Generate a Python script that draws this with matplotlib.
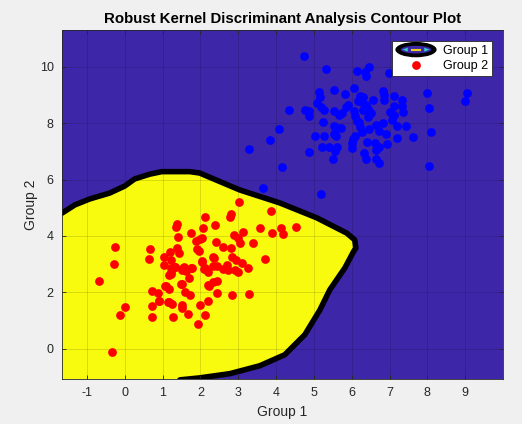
import matplotlib
matplotlib.use("Agg")
import matplotlib.pyplot as plt
import numpy as np
from matplotlib.legend_handler import HandlerBase
from matplotlib.patches import Ellipse, Polygon
from matplotlib.lines import Line2D

plt.rcParams['font.family'] = ['Liberation Sans', 'DejaVu Sans']
plt.rcParams['axes.unicode_minus'] = False

# ── data ─────────────────────────────────────────────────────────────────────
group1_x = [4.74, 5.32, 6.15, 6.35, 6.39, 6.46, 6.99, 7.98, 9.04, 9.00,
            8.05, 8.09, 8.05, 7.63, 5.13, 5.17, 5.54, 5.83, 6.06, 6.83,
            6.86, 6.86, 7.11, 7.32, 7.34, 7.36, 6.55, 6.22, 6.30, 6.17,
            6.26, 6.39, 6.42, 6.29, 5.07, 5.19, 5.26, 4.35, 4.76, 4.87,
            4.88, 5.54, 5.66, 5.73, 5.86, 5.91, 6.06, 6.08, 6.13, 7.11,
            7.12, 7.07, 6.44, 5.23, 5.54, 5.60, 5.71, 6.19, 6.23, 6.26,
            6.46, 6.63, 6.82, 6.73, 7.19, 7.43, 7.19, 4.08, 3.85, 3.29,
            5.03, 5.26, 5.54, 5.58, 4.88, 5.22, 5.40, 5.60, 5.56, 5.51,
            6.00, 6.04, 6.08, 6.41, 6.61, 6.64, 6.73, 6.92, 6.33, 6.39,
            6.63, 6.72, 4.15, 3.66, 5.18, 6.50, 6.00, 6.90, 7.00]
group1_y = [10.37, 9.92, 9.86, 9.82, 9.67, 10.00, 9.79, 9.05, 9.06, 8.78,
            8.52, 7.69, 6.47, 7.50, 9.09, 8.93, 9.19, 9.03, 9.25, 9.13,
            8.99, 8.81, 8.96, 8.81, 8.60, 8.38, 8.81, 8.96, 8.91, 8.78,
            8.75, 8.64, 8.51, 8.46, 8.72, 8.58, 8.46, 8.46, 8.46, 8.44,
            8.25, 8.44, 8.28, 8.37, 8.58, 8.64, 8.44, 8.25, 8.07, 8.60,
            8.28, 8.12, 8.20, 8.04, 7.89, 7.83, 7.81, 8.05, 7.85, 7.67,
            7.78, 7.93, 7.99, 7.73, 7.88, 7.90, 7.48, 7.78, 7.40, 7.08,
            7.54, 7.56, 7.61, 7.54, 6.97, 7.16, 7.16, 7.16, 7.00, 6.72,
            7.10, 7.44, 7.54, 7.34, 7.28, 7.04, 7.16, 7.26, 6.95, 6.72,
            6.71, 6.57, 6.43, 5.71, 5.50, 8.35, 7.30, 7.60, 8.40]

group2_x = [-0.68, -0.26, -0.29, 0.01, -0.13, -0.34, 0.66, 0.63, 0.71, 0.88,
            0.73, 0.71, 0.91, 1.05, 1.03, 1.08, 1.17, 1.15, 1.25, 1.28,
            1.19, 1.23, 1.22, 1.22, 1.35, 1.39, 1.41, 1.37, 1.44, 1.34,
            1.50, 1.57, 1.63, 1.50, 1.70, 1.60, 1.72, 1.52, 1.50, 1.68,
            1.78, 1.76, 1.88, 1.90, 1.97, 1.98, 2.04, 2.11, 2.06, 1.94,
            2.00, 2.12, 2.20, 2.09, 2.34, 2.41, 2.38, 2.23, 2.43, 3.02,
            2.82, 2.78, 3.86, 3.57, 3.88, 4.13, 4.19, 4.53, 3.13, 2.89,
            3.00, 3.04, 3.39, 3.72, 2.03, 2.60, 2.80, 2.84, 2.95, 3.09,
            3.25, 3.00, 2.91, 2.73, 2.69, 2.60, 2.43, 2.34, 2.35, 2.03,
            2.12, 2.19, 2.34, 2.43, 2.20, 2.84, 3.29, 1.32, 1.23, 1.17,
            1.53, 1.76, 1.49, 1.07, 0.90, 1.16]
group2_y = [2.42, 3.61, 3.01, 1.49, 1.19, -0.11, 3.54, 3.19, 2.06, 1.99,
            1.52, 1.12, 1.71, 3.24, 2.96, 2.21, 2.11, 1.66, 1.59, 1.12,
            3.44, 3.15, 2.86, 2.66, 4.33, 4.42, 3.98, 3.56, 3.39, 2.91,
            2.80, 2.91, 2.77, 2.30, 2.52, 2.03, 1.89, 1.55, 1.44, 1.23,
            2.86, 4.12, 3.83, 3.53, 3.45, 3.88, 3.09, 4.66, 4.29, 0.87,
            1.55, 1.20, 1.68, 2.82, 3.24, 3.80, 4.38, 2.23, 1.99, 5.21,
            4.77, 4.68, 4.88, 4.27, 4.12, 4.27, 4.06, 4.31, 4.15, 4.04,
            3.94, 3.76, 3.74, 3.19, 3.92, 3.60, 3.56, 3.27, 3.15, 3.03,
            2.86, 2.74, 2.80, 2.80, 2.97, 2.83, 2.94, 2.94, 3.23, 3.12,
            2.86, 2.74, 2.36, 2.41, 2.27, 1.89, 1.94, 2.91, 2.74, 2.62,
            2.88, 2.88, 2.29, 2.23, 1.70, 1.65]

# decision boundary (Group 2 region)
boundary_x = [-2.50, -1.66, -1.32, -0.93, -0.40, 0.00, 0.26, 0.66, 0.98,
              1.72, 1.98, 3.04, 4.10, 5.08, 5.87, 6.08, 6.11, 6.05, 5.82,
              5.42, 5.16, 4.76, 4.23, 3.57, 2.78, 1.98, 1.46, 1.20, -2.50]
boundary_y = [4.45, 4.81, 5.10, 5.31, 5.52, 5.77, 6.02, 6.19, 6.28,
              6.28, 6.23, 5.63, 5.17, 4.64, 4.10, 3.86, 3.57, 3.45, 2.87,
              2.09, 1.38, 0.50, -0.21, -0.60, -0.88, -1.03, -1.10, -1.50, -1.50]

x_ticks = [-1, 0, 1, 2, 3, 4, 5, 6, 7, 8, 9]
y_ticks = [0, 2, 4, 6, 8, 10]

# ── style ────────────────────────────────────────────────────────────────────
_BG = '#f0f0f0'
_BLUE_REGION = '#3e26a8'    # parula low end
_YELLOW_REGION = '#f9fb0e'  # parula high end
_AXIS = '#262626'


class ContourHandler(HandlerBase):
    # mimics MATLAB's contour legend icon
    def create_artists(self, legend, orig_handle, xdescent, ydescent,
                       width, height, fontsize, trans):
        cx = width / 2 - xdescent
        cy = height / 2 - ydescent
        w = width * 1.0
        h = height * 1.75
        outer = Ellipse((cx, cy), w, h, facecolor='black', edgecolor='none',
                        transform=trans)
        inner = Ellipse((cx, cy), w * 0.74, h * 0.5, facecolor=_BLUE_REGION,
                        edgecolor='none', transform=trans)
        left = Polygon([[cx - w * 0.33, cy], [cx - w * 0.2, cy + h * 0.13],
                        [cx - w * 0.2, cy - h * 0.13]], closed=True,
                       facecolor='#2fd0c8', edgecolor='none', transform=trans)
        right = Polygon([[cx + w * 0.33, cy], [cx + w * 0.2, cy + h * 0.13],
                         [cx + w * 0.2, cy - h * 0.13]], closed=True,
                        facecolor='#2fd0c8', edgecolor='none', transform=trans)
        mid = Line2D([cx - w * 0.1, cx + w * 0.1], [cy, cy], color='#e8d21a',
                     linewidth=1.5, transform=trans)
        return [outer, inner, left, right, mid]


fig = plt.figure(figsize=(5.22, 4.24), dpi=100)
fig.patch.set_facecolor(_BG)
ax = fig.add_axes([62 / 522, 1 - 379 / 424, (503 - 62) / 522, (379 - 30) / 424])
ax.set_facecolor(_BLUE_REGION)

ax.fill(boundary_x, boundary_y, color=_YELLOW_REGION, zorder=1)
ax.plot(boundary_x, boundary_y, color='black', linewidth=4, zorder=2,
        solid_joinstyle='round')

ax.plot(group1_x, group1_y, 'o', color='#0000ff', markersize=6.3,
        markeredgewidth=0, zorder=4)
ax.plot(group2_x, group2_y, 'o', color='#ff0000', markersize=6.3,
        markeredgewidth=0, zorder=4)

ax.set_xlim(-1.66, 10.0)
ax.set_ylim(-1.07, 11.3)
ax.set_xticks(x_ticks)
ax.set_yticks(y_ticks)
ax.grid(True, color='black', alpha=0.15, linewidth=0.6, zorder=3)
ax.set_axisbelow(False)
ax.tick_params(direction='in', top=True, right=True, length=3,
               labelsize=9, colors=_AXIS, width=0.6, pad=6)
for s in ax.spines.values():
    s.set_color(_AXIS)
    s.set_linewidth(0.6)

ax.set_xlabel('Group 1', fontsize=10, color=_AXIS, labelpad=4)
ax.set_ylabel('Group 2', fontsize=10, color=_AXIS, labelpad=1)
ax.set_title('Robust Kernel Discriminant Analysis Contour Plot',
             fontsize=10.8, fontweight='bold', color='black', pad=5)

contour_handle = Ellipse((0, 0), 1, 1)
dot_handle = Line2D([], [], marker='o', linestyle='none', color='#ff0000',
                    markersize=6.3, markeredgewidth=0)
leg = ax.legend([contour_handle, dot_handle], ['Group 1', 'Group 2'],
                handler_map={Ellipse: ContourHandler()},
                loc='upper right', fontsize=9, frameon=True, fancybox=False,
                borderaxespad=0.9, handlelength=3.3, handletextpad=0.5,
                borderpad=0.3, labelspacing=0.25)
leg.get_frame().set_edgecolor(_AXIS)
leg.get_frame().set_linewidth(0.6)
leg.get_frame().set_facecolor('white')
leg.get_frame().set_alpha(1)
leg.set_zorder(10)

fig.savefig('out.png', dpi=100, facecolor=_BG)
